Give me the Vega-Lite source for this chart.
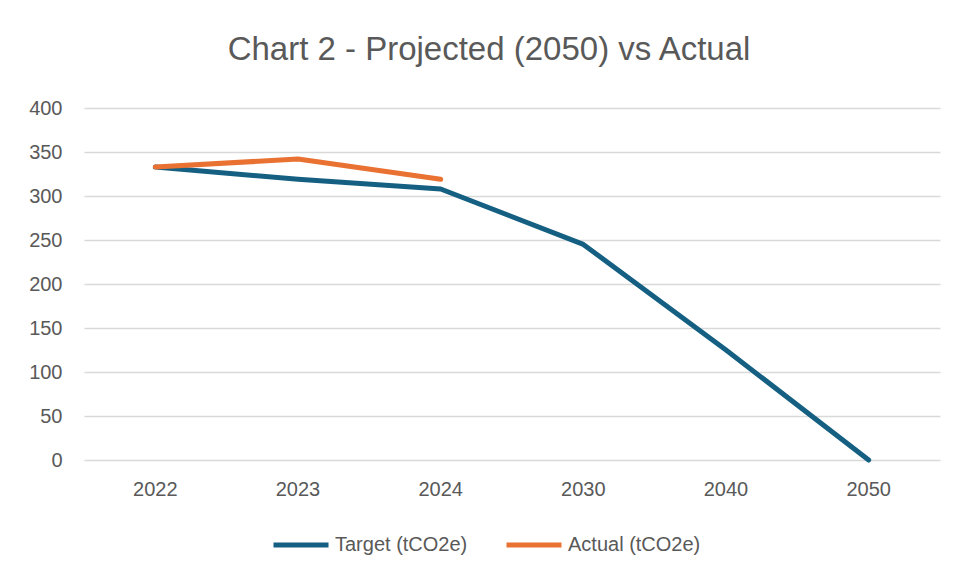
{
  "$schema": "https://vega.github.io/schema/vega-lite/v6.json",
  "autosize": {"type": "none"},
  "padding": {"left": 84, "top": 108, "right": 15, "bottom": 119},
  "width": 856,
  "height": 352,
  "background": "white",
  "config": {
    "font": "Liberation Sans, Arial, sans-serif",
    "view": {"stroke": null},
    "axis": {"labelColor": "#595959", "labelFontSize": 20, "ticks": false, "domain": false, "title": null}
  },
  "title": {
    "text": "Chart 2 - Projected (2050) vs Actual",
    "fontSize": 33,
    "fontWeight": "normal",
    "color": "#595959",
    "anchor": "middle",
    "dx": -23,
    "offset": 31
  },
  "data": {
    "values": [
      {"year": "2022", "series": "Target (tCO2e)", "value": 333},
      {"year": "2023", "series": "Target (tCO2e)", "value": 319},
      {"year": "2024", "series": "Target (tCO2e)", "value": 308},
      {"year": "2030", "series": "Target (tCO2e)", "value": 245},
      {"year": "2040", "series": "Target (tCO2e)", "value": 125},
      {"year": "2050", "series": "Target (tCO2e)", "value": 0},
      {"year": "2022", "series": "Actual (tCO2e)", "value": 333},
      {"year": "2023", "series": "Actual (tCO2e)", "value": 342},
      {"year": "2024", "series": "Actual (tCO2e)", "value": 319}
    ]
  },
  "encoding": {
    "x": {
      "field": "year",
      "type": "ordinal",
      "sort": ["2022", "2023", "2024", "2030", "2040", "2050"],
      "scale": {"paddingInner": 0, "paddingOuter": 0, "type": "band"},
      "axis": {"labelAngle": 0, "grid": false, "labelPadding": 19}
    },
    "y": {
      "field": "value",
      "type": "quantitative",
      "scale": {"domain": [0, 400], "nice": false},
      "axis": {"values": [0, 50, 100, 150, 200, 250, 300, 350, 400], "grid": true, "gridColor": "#D9D9D9", "gridWidth": 1.5, "labelPadding": 22, "labelOverlap": false}
    },
    "color": {
      "field": "series",
      "type": "nominal",
      "scale": {"domain": ["Target (tCO2e)", "Actual (tCO2e)"], "range": ["#156082", "#E97132"]},
      "legend": {
        "title": null,
        "orient": "none",
        "direction": "horizontal",
        "legendX": 187,
        "legendY": 407,
        "symbolType": "stroke",
        "symbolSize": 3025,
        "symbolStrokeWidth": 5,
        "labelFontSize": 20,
        "labelColor": "#595959",
        "labelOffset": 4,
        "columnPadding": 28
      }
    }
  },
  "layer": [
    {
      "transform": [{"filter": "datum.series == 'Target (tCO2e)'"}],
      "mark": {"type": "line", "strokeWidth": 5, "strokeCap": "round", "strokeJoin": "round"}
    },
    {
      "transform": [{"filter": "datum.series == 'Actual (tCO2e)'"}],
      "mark": {"type": "line", "strokeWidth": 5, "strokeCap": "round", "strokeJoin": "round"}
    }
  ]
}
